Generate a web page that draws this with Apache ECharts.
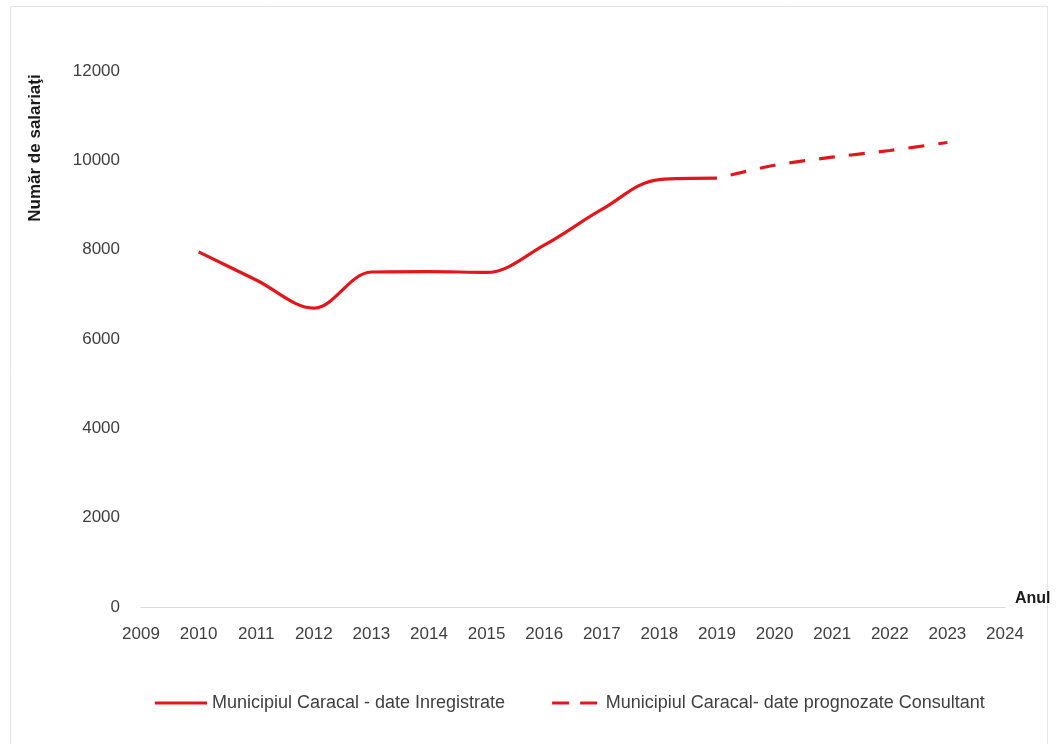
<!DOCTYPE html>
<html>
<head>
<meta charset="utf-8">
<title>Număr de salariaţi - Municipiul Caracal</title>
<script src="https://cdn.jsdelivr.net/npm/echarts@6/dist/echarts.min.js"></script>
<style>
  html, body { margin: 0; padding: 0; background: #ffffff; }
  #chart { width: 1059px; height: 744px; }
</style>
</head>
<body>
<div id="chart"></div>
<script>
// Recorded employee counts and the consultant's forecast
const years = [2010, 2011, 2012, 2013, 2014, 2015, 2016, 2017, 2018, 2019];
const recorded = [7950, 7320, 6690, 7500, 7510, 7490, 8100, 8900, 9570, 9600];
const forecastYears = [2019, 2020, 2021, 2022, 2023];
const forecast = [9600, 9890, 10070, 10220, 10400];
const xTicks = [2009, 2024];
const yTicks = [0, 12000, 2000];

const seriesNames = [
  'Municipiul Caracal - date Inregistrate',
  'Municipiul Caracal- date prognozate Consultant'
];

const red = '#e2161b';
const labelColor = '#404040';
const font = 'Liberation Sans';

const chart = echarts.init(document.getElementById('chart'));
chart.setOption({
  backgroundColor: '#ffffff',
  animation: false,
  graphic: [
    {
      type: 'rect',
      shape: { x: 10.5, y: 6.5, width: 1037, height: 745 },
      style: { fill: 'none', stroke: '#e4e4e4', lineWidth: 1 },
      silent: true
    },
    {
      type: 'text',
      x: 35,
      y: 148,
      rotation: Math.PI / 2,
      style: {
        text: 'Număr de salariaţi',
        font: 'bold 17px "' + font + '"',
        fill: '#1a1a1a',
        align: 'center',
        verticalAlign: 'middle'
      }
    }
  ],
  grid: { left: 141, right: 54, top: 71, bottom: 137 },
  xAxis: {
    type: 'value',
    min: xTicks[0],
    max: xTicks[1],
    interval: 1,
    name: 'Anul',
    nameLocation: 'end',
    nameGap: 10,
    nameTextStyle: {
      fontFamily: font, fontSize: 16, fontWeight: 'bold', color: '#1a1a1a',
      verticalAlign: 'bottom'
    },
    axisLine: { show: true, lineStyle: { color: '#d9d9d9', width: 1 } },
    axisTick: { show: false },
    splitLine: { show: false },
    axisLabel: {
      fontFamily: font, fontSize: 17, color: labelColor, margin: 19,
      formatter: v => String(v)
    }
  },
  yAxis: {
    type: 'value',
    min: yTicks[0],
    max: yTicks[1],
    interval: yTicks[2],
    axisLine: { show: false },
    axisTick: { show: false },
    splitLine: { show: false },
    axisLabel: {
      fontFamily: font, fontSize: 17, color: labelColor, margin: 21,
      formatter: v => String(v)
    }
  },
  legend: {
    bottom: 27,
    left: 150,
    itemWidth: 52,
    itemHeight: 3,
    itemGap: 47,
    textStyle: { fontFamily: font, fontSize: 18, color: labelColor },
    data: [
      { name: seriesNames[0], icon: 'path://M0,0H52V3H0Z' },
      { name: seriesNames[1], icon: 'path://M0,0H17V3H0Z M28,0H45V3H28Z' }
    ]
  },
  series: [
    {
      name: seriesNames[0],
      type: 'line',
      data: years.map((y, i) => [y, recorded[i]]),
      smooth: 0.35,
      symbol: 'none',
      lineStyle: { color: red, width: 3.2 },
      itemStyle: { color: red },
      z: 3
    },
    {
      name: seriesNames[1],
      type: 'line',
      data: forecastYears.map((y, i) => [y, forecast[i]]),
      smooth: 0.3,
      symbol: 'none',
      lineStyle: { color: red, width: 3.2, type: [16, 14], dashOffset: -14 },
      itemStyle: { color: red },
      z: 2
    }
  ]
});
</script>
</body>
</html>
